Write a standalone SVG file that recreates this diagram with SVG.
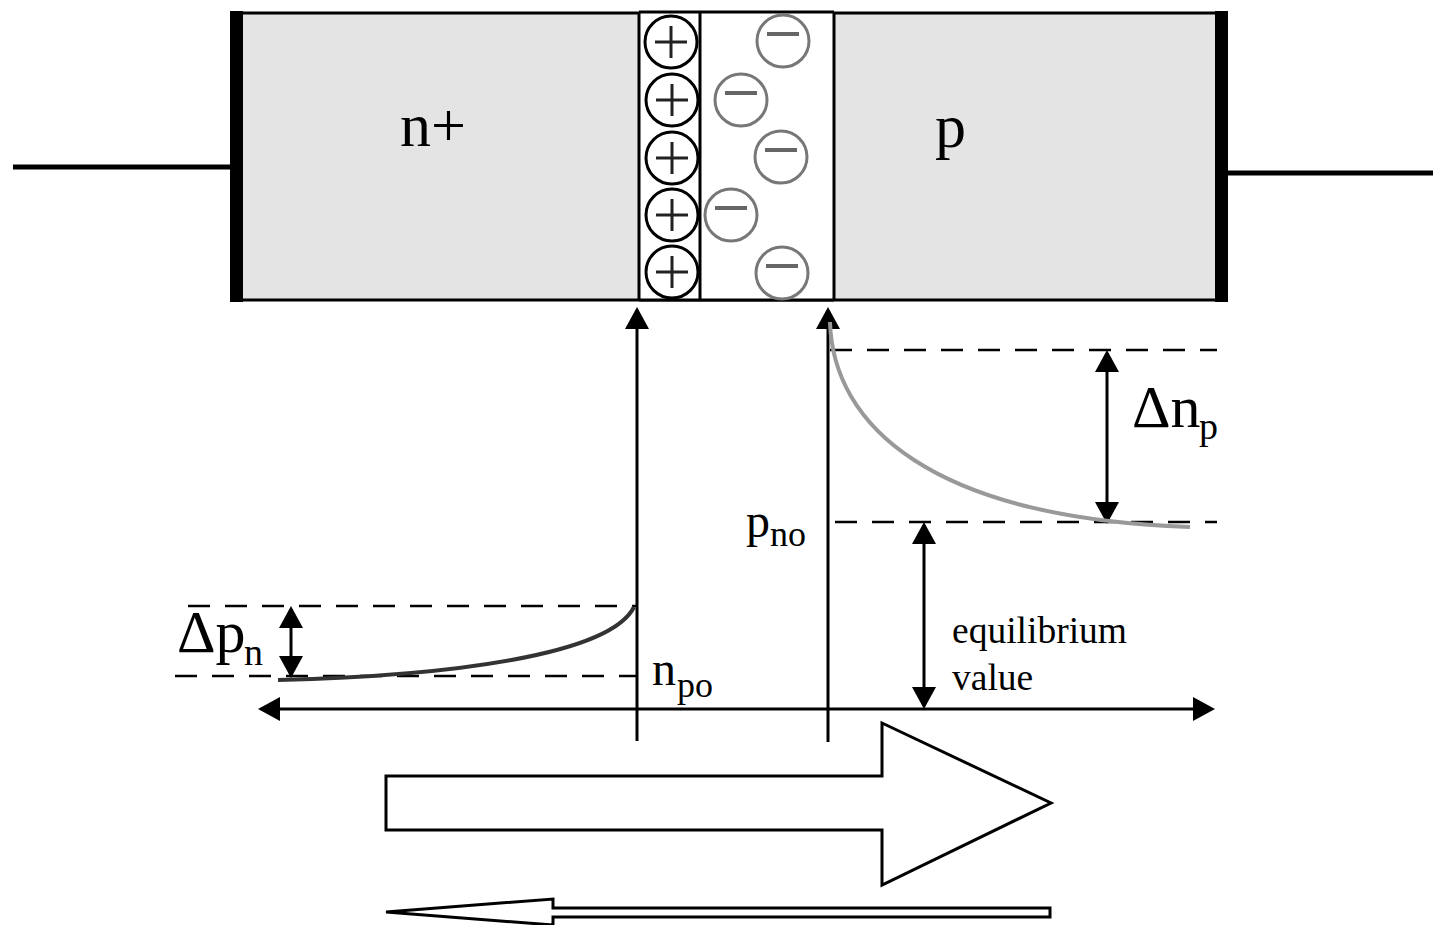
<svg xmlns="http://www.w3.org/2000/svg" width="1433" height="925" viewBox="0 0 1433 925">
<style>
.t{font-family:"Liberation Serif","Times New Roman",serif;fill:#000}
.ln{stroke:#000;stroke-width:3;fill:none}
.dash{stroke:#000;stroke-width:2.5;stroke-dasharray:22 15;fill:none}
.pc{fill:#fff;stroke:#000;stroke-width:3}
.pl{stroke:#222;stroke-width:3}
.mc{fill:#fff;stroke:#777;stroke-width:3}
.ml{stroke:#666;stroke-width:4}
.bigarrow{fill:#fff;stroke:#000;stroke-width:3;stroke-linejoin:miter}
</style>
<defs>
<marker id="ah" viewBox="0 0 22 24" refX="19" refY="12" markerWidth="22" markerHeight="24" markerUnits="userSpaceOnUse" orient="auto-start-reverse">
<path d="M0,0 L22,12 L0,24 z" fill="#000"/>
</marker>
<g id="plus"><circle r="26" class="pc"/><line x1="-16" y1="0" x2="16" y2="0" class="pl"/><line x1="0" y1="-16" x2="0" y2="16" class="pl"/></g>
<g id="minus"><circle r="26" class="mc"/><line x1="-16" y1="-7" x2="16" y2="-7" class="ml"/></g>
</defs>
<rect width="1433" height="925" fill="#fff"/>

<g id="diode">
<line x1="13" y1="167" x2="232" y2="167" stroke="#000" stroke-width="5"/>
<line x1="1226" y1="173" x2="1433" y2="173" stroke="#000" stroke-width="5"/>
<rect x="237" y="13" width="985" height="287" fill="#e4e4e4" stroke="#000" stroke-width="3"/>
<rect x="639" y="13" width="195" height="287" fill="#fff"/>
<line x1="639" y1="12" x2="834" y2="12" class="ln"/>
<line x1="639" y1="300" x2="834" y2="300" class="ln"/>
<line x1="639" y1="12" x2="639" y2="301" class="ln"/>
<line x1="700" y1="12" x2="700" y2="301" class="ln"/>
<line x1="834" y1="12" x2="834" y2="301" class="ln"/>
<rect x="230" y="11" width="13" height="291" fill="#000"/>
<rect x="1215" y="11" width="13" height="291" fill="#000"/>
</g>
<g id="n-region"><text class="t" x="400" y="146" font-size="62">n+</text></g>
<g id="p-region"><text class="t" x="935" y="147" font-size="62">p</text></g>
<g id="donors">
<use href="#plus" x="671" y="42"/>
<use href="#plus" x="672" y="100"/>
<use href="#plus" x="672" y="158"/>
<use href="#plus" x="672" y="215"/>
<use href="#plus" x="672" y="272"/>
</g>
<g id="acceptors">
<use href="#minus" x="783" y="41"/>
<use href="#minus" x="741" y="100"/>
<use href="#minus" x="781" y="157"/>
<use href="#minus" x="731" y="215"/>
<use href="#minus" x="782" y="273"/>
</g>

<g id="connectors">
<line x1="637" y1="741" x2="637" y2="310" class="ln" marker-end="url(#ah)"/>
<line x1="828" y1="742" x2="828" y2="310" class="ln" marker-end="url(#ah)"/>
<line x1="261" y1="709" x2="1212" y2="709" class="ln" marker-start="url(#ah)" marker-end="url(#ah)"/>
<line x1="1107" y1="353" x2="1107" y2="521" class="ln" marker-start="url(#ah)" marker-end="url(#ah)"/>
<line x1="291" y1="609" x2="291" y2="675" class="ln" marker-start="url(#ah)" marker-end="url(#ah)"/>
<line x1="924" y1="525" x2="924" y2="706" class="ln" marker-start="url(#ah)" marker-end="url(#ah)"/>
<line x1="830" y1="350" x2="1217" y2="350" class="dash"/>
<line x1="835" y1="522" x2="1217" y2="522" class="dash"/>
<line x1="188" y1="606" x2="637" y2="606" class="dash"/>
<line x1="175" y1="676" x2="637" y2="676" class="dash"/>
</g>

<g id="curves">
<path d="M830,322 C833,425 930,518 1190,527" fill="none" stroke="#999" stroke-width="4"/>
<path d="M278,680 C450,676 610,655 634,607" fill="none" stroke="#333" stroke-width="4"/>
</g>

<g id="labels">
<text class="t" x="1132" y="427" font-size="60">Δn</text>
<text class="t" x="1199" y="439" font-size="38">p</text>
<text class="t" x="177" y="652" font-size="60">Δp</text>
<text class="t" x="244" y="665" font-size="38">n</text>
<text class="t" x="652" y="685" font-size="48">n</text>
<text class="t" x="677" y="697" font-size="36">po</text>
<text class="t" x="746" y="537" font-size="48">p</text>
<text class="t" x="770" y="546" font-size="36">no</text>
<text class="t" x="952" y="643" font-size="37.5">equilibrium</text>
<text class="t" x="952" y="690" font-size="37.5">value</text>
</g>

<g id="flow-right">
<path class="bigarrow" d="M386,776 L882,776 L882,723 L1051,803 L882,885 L882,830 L386,830 z"/>
</g>
<g id="flow-left">
<path class="bigarrow" stroke-width="2.7" d="M1050,908 L553,908 L553,899 L386,912 L553,925 L553,917 L1050,917 z"/>
</g>
</svg>
